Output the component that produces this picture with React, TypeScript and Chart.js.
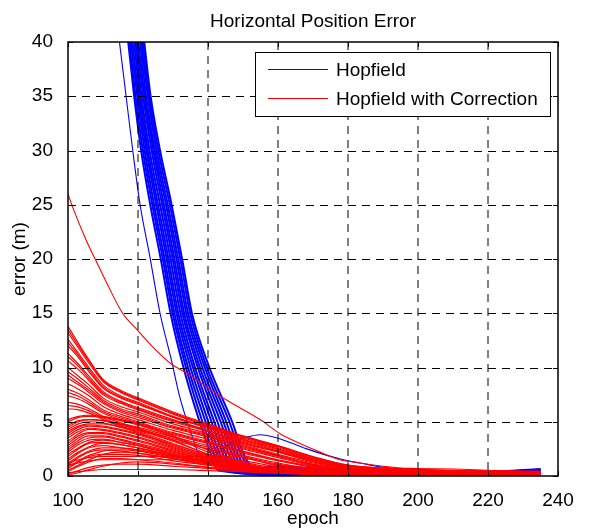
import React, { useEffect, useRef } from 'react';
import { Chart, registerables } from 'chart.js';

Chart.register(...registerables);

const FONT = "'Liberation Sans', Arial, Helvetica, sans-serif";

const X_TICKS = [100, 120, 140, 160, 180, 200, 220, 240];
const Y_TICKS = [0, 5, 10, 15, 20, 25, 30, 35, 40];

const TITLE = 'Horizontal Position Error';
const X_LABEL = 'epoch';
const Y_LABEL = 'error (m)';
const LEGEND_LABELS = ['Hopfield', 'Hopfield with Correction'];

// ---- Hopfield (blue): main bundle, epochs at which each run crosses these error levels
const BLUE_LEVELS = [45, 40, 35, 30, 25, 20, 15, 10, 5, 2, 0.5];
const BLUE_BUNDLE_EPOCHS = [
  [115.7, 117.2, 118.9, 120.9, 123.5, 126.5, 129.3, 133.0, 137.6, 140.9, 143.0],
  [116.1, 117.6, 119.3, 121.4, 124.1, 127.1, 129.9, 133.7, 138.4, 141.7, 144.0],
  [116.5, 118.0, 119.8, 121.9, 124.6, 127.6, 130.4, 134.3, 139.3, 142.6, 144.9],
  [116.9, 118.4, 120.2, 122.4, 125.2, 128.2, 131.0, 135.0, 140.1, 143.4, 145.9],
  [117.4, 118.9, 120.6, 122.8, 125.7, 128.7, 131.5, 135.7, 141.0, 144.3, 146.9],
  [117.8, 119.3, 121.0, 123.3, 126.3, 129.3, 132.1, 136.3, 141.8, 145.1, 147.9],
  [118.2, 119.7, 121.5, 123.9, 126.9, 129.9, 132.7, 137.1, 142.7, 146.0, 148.9],
  [118.6, 120.1, 121.9, 124.4, 127.4, 130.4, 133.2, 137.7, 143.6, 146.9, 149.9],
  [119.1, 120.6, 122.3, 124.8, 128.0, 131.0, 133.8, 138.4, 144.4, 147.7, 150.9],
  [119.5, 121.0, 122.8, 125.3, 128.5, 131.5, 134.3, 139.1, 145.2, 148.5, 151.9],
  [119.9, 121.4, 123.2, 125.8, 129.1, 132.1, 134.9, 139.7, 146.1, 149.4, 152.8],
  [120.3, 121.8, 123.6, 126.3, 129.6, 132.6, 135.4, 140.4, 146.9, 150.2, 153.8],
];
const BLUE_TAIL_EPOCHS = [160, 180, 200, 220, 235];
const BLUE_TAIL_VALUES = [
  [0.15, 0.1, 0.1, 0.2, 0.35],
  [0.4, 0.2, 0.15, 0.25, 0.45],
  [0.1, 0.1, 0.1, 0.15, 0.3],
  [0.8, 0.35, 0.2, 0.3, 0.55],
  [0.2, 0.1, 0.1, 0.25, 0.45],
  [0.5, 0.25, 0.2, 0.35, 0.65],
  [0.1, 0.1, 0.1, 0.15, 0.3],
  [0.9, 0.45, 0.3, 0.35, 0.6],
  [0.3, 0.15, 0.1, 0.25, 0.4],
  [0.6, 0.3, 0.2, 0.3, 0.5],
  [0.15, 0.1, 0.1, 0.2, 0.35],
  [0.4, 0.2, 0.15, 0.25, 0.45],
];

// ---- Hopfield (blue): single outlying run
const BLUE_THIN_EPOCHS = [112.8, 114.7, 116.6, 118.5, 120.6, 123.4, 126.3, 129.6, 132.0, 134.9, 137.7, 139.5, 141.5, 145.0, 147.2, 150.1, 154.9, 158.7, 162.5, 168.2, 174.0, 178.7, 183.4, 190, 200, 215, 225, 235];
const BLUE_THIN_VALUES = [45, 40, 35, 30, 25, 20.2, 15.0, 10.6, 7.2, 4.2, 1.8, 1.3, 1.8, 2.7, 3.2, 3.5, 3.8, 3.6, 3.2, 2.5, 1.9, 1.5, 1.2, 0.8, 0.6, 0.5, 0.45, 0.5];

// ---- Hopfield with Correction (red)
const RED_EPOCHS = [100, 103, 106, 110, 115, 120, 130, 140, 150, 160, 170, 180, 200, 220, 235];
const RED_UPPER = [
  [13.8, 12.2, 10.7, 8.9, 7.9, 7.2, 5.9, 4.8, 3.7, 2.8, 1.8, 1.0, 0.6, 0.45, 0.4],
  [13.5, 12.0, 10.6, 8.8, 7.8, 7.1, 5.8, 4.7, 3.65, 2.75, 1.75, 1.0, 0.6, 0.45, 0.4],
  [13.2, 11.8, 10.4, 8.7, 7.7, 7.0, 5.7, 4.6, 3.6, 2.7, 1.7, 0.95, 0.55, 0.45, 0.4],
  [12.6, 11.3, 10.0, 8.4, 7.4, 6.8, 5.5, 4.5, 3.5, 2.6, 1.6, 0.9, 0.55, 0.4, 0.35],
  [12.3, 11.1, 9.8, 8.2, 7.3, 6.7, 5.45, 4.45, 3.4, 2.5, 1.55, 0.9, 0.5, 0.4, 0.35],
  [12.0, 10.9, 9.6, 8.1, 7.2, 6.6, 5.4, 4.4, 3.3, 2.4, 1.5, 0.85, 0.5, 0.4, 0.35],
  [11.3, 10.3, 9.2, 7.8, 6.9, 6.3, 5.2, 4.2, 3.2, 2.3, 1.4, 0.8, 0.5, 0.4, 0.35],
  [11.0, 10.1, 9.0, 7.65, 6.8, 6.2, 5.1, 4.15, 3.1, 2.25, 1.35, 0.8, 0.5, 0.35, 0.3],
  [10.6, 9.8, 8.8, 7.5, 6.7, 6.1, 5.0, 4.1, 3.0, 2.2, 1.3, 0.75, 0.5, 0.35, 0.3],
  [10.0, 9.2, 8.4, 7.2, 6.4, 5.9, 4.8, 3.9, 2.9, 2.0, 1.2, 0.7, 0.45, 0.35, 0.3],
  [9.6, 8.9, 8.1, 7.0, 6.2, 5.7, 4.6, 3.8, 2.8, 1.9, 1.1, 0.65, 0.45, 0.35, 0.3],
  [9.3, 8.6, 7.9, 6.85, 6.05, 5.55, 4.5, 3.7, 2.7, 1.85, 1.05, 0.6, 0.4, 0.3, 0.3],
  [9.0, 8.4, 7.7, 6.7, 5.9, 5.4, 4.4, 3.6, 2.6, 1.8, 1.0, 0.6, 0.4, 0.3, 0.3],
  [8.5, 8.0, 7.4, 6.4, 5.7, 5.2, 4.2, 3.4, 2.5, 1.7, 0.95, 0.55, 0.4, 0.3, 0.25],
  [8.0, 7.6, 7.0, 6.1, 5.5, 5.0, 4.0, 3.2, 2.3, 1.5, 0.9, 0.5, 0.35, 0.3, 0.25],
  [7.7, 7.35, 6.8, 5.95, 5.35, 4.9, 3.9, 3.1, 2.2, 1.45, 0.85, 0.5, 0.35, 0.25, 0.25],
  [7.4, 7.1, 6.6, 5.8, 5.2, 4.8, 3.8, 3.0, 2.1, 1.4, 0.8, 0.5, 0.35, 0.25, 0.25],
  [6.8, 6.6, 6.2, 5.5, 4.9, 4.5, 3.6, 2.8, 1.9, 1.2, 0.7, 0.45, 0.3, 0.25, 0.2],
  [6.5, 6.35, 6.0, 5.35, 4.75, 4.35, 3.45, 2.65, 1.8, 1.1, 0.65, 0.4, 0.3, 0.25, 0.2],
  [6.2, 6.1, 5.8, 5.2, 4.6, 4.2, 3.3, 2.5, 1.7, 1.0, 0.6, 0.4, 0.3, 0.25, 0.2],
];
const RED_LOWER = [
  [5.2, 5.5, 5.6, 5.5, 5.2, 4.8, 3.7, 2.4, 1.3, 0.7, 0.45, 0.3, 0.25, 0.2, 0.2],
  [5.0, 5.4, 5.5, 5.4, 5.1, 4.7, 3.6, 2.2, 1.2, 0.6, 0.4, 0.3, 0.25, 0.2, 0.2],
  [4.7, 5.1, 5.2, 5.1, 4.8, 4.4, 3.3, 2.0, 1.1, 0.6, 0.4, 0.3, 0.25, 0.2, 0.2],
  [4.5, 5.0, 5.2, 5.1, 4.7, 4.3, 3.2, 2.0, 1.1, 0.6, 0.4, 0.3, 0.2, 0.2, 0.2],
  [4.3, 4.8, 5.0, 4.9, 4.5, 4.1, 3.0, 1.9, 1.0, 0.5, 0.35, 0.3, 0.2, 0.2, 0.2],
  [4.1, 4.6, 4.8, 4.8, 4.5, 4.0, 2.9, 1.9, 1.0, 0.55, 0.35, 0.3, 0.2, 0.2, 0.15],
  [3.9, 4.5, 4.7, 4.6, 4.3, 3.9, 2.8, 1.8, 1.0, 0.5, 0.35, 0.3, 0.2, 0.2, 0.2],
  [3.7, 4.3, 4.6, 4.5, 4.2, 3.8, 2.7, 1.7, 0.95, 0.5, 0.3, 0.25, 0.2, 0.15, 0.15],
  [3.5, 4.1, 4.4, 4.3, 4.0, 3.6, 2.6, 1.7, 0.9, 0.5, 0.3, 0.25, 0.2, 0.15, 0.15],
  [3.2, 3.9, 4.3, 4.2, 3.9, 3.5, 2.5, 1.6, 0.9, 0.5, 0.3, 0.25, 0.2, 0.15, 0.15],
  [3.0, 3.7, 4.0, 4.0, 3.7, 3.3, 2.4, 1.6, 0.9, 0.5, 0.3, 0.25, 0.2, 0.15, 0.15],
  [2.8, 3.5, 3.9, 3.9, 3.6, 3.2, 2.3, 1.5, 0.85, 0.45, 0.3, 0.2, 0.15, 0.15, 0.15],
  [2.6, 3.3, 3.7, 3.7, 3.4, 3.0, 2.2, 1.5, 0.8, 0.45, 0.3, 0.25, 0.2, 0.15, 0.15],
  [2.4, 3.1, 3.5, 3.6, 3.3, 2.9, 2.1, 1.4, 0.8, 0.45, 0.3, 0.2, 0.15, 0.1, 0.1],
  [2.2, 2.9, 3.3, 3.4, 3.1, 2.8, 2.0, 1.4, 0.8, 0.4, 0.3, 0.2, 0.15, 0.15, 0.15],
  [2.0, 2.6, 3.1, 3.3, 3.1, 2.8, 2.0, 1.3, 0.75, 0.4, 0.25, 0.2, 0.15, 0.1, 0.1],
  [1.8, 2.5, 3.0, 3.1, 2.9, 2.6, 1.9, 1.3, 0.7, 0.4, 0.25, 0.2, 0.15, 0.1, 0.1],
  [1.6, 2.2, 2.7, 3.0, 2.9, 2.6, 1.9, 1.2, 0.7, 0.4, 0.25, 0.2, 0.15, 0.1, 0.1],
  [1.4, 2.1, 2.6, 2.8, 2.6, 2.4, 1.8, 1.2, 0.7, 0.4, 0.25, 0.2, 0.15, 0.1, 0.1],
  [1.2, 1.8, 2.3, 2.6, 2.6, 2.4, 1.8, 1.2, 0.7, 0.35, 0.2, 0.15, 0.1, 0.1, 0.1],
  [1.0, 1.7, 2.2, 2.4, 2.3, 2.1, 1.6, 1.1, 0.6, 0.35, 0.2, 0.15, 0.1, 0.1, 0.1],
  [0.85, 1.4, 1.9, 2.3, 2.4, 2.3, 1.7, 1.1, 0.6, 0.35, 0.2, 0.15, 0.1, 0.1, 0.1],
  [0.7, 1.3, 1.8, 2.0, 2.0, 1.9, 1.4, 1.0, 0.6, 0.3, 0.2, 0.15, 0.1, 0.1, 0.1],
  [0.55, 1.0, 1.5, 2.0, 2.2, 2.1, 1.6, 1.0, 0.6, 0.3, 0.2, 0.15, 0.1, 0.1, 0.1],
  [0.4, 0.9, 1.3, 1.6, 1.6, 1.5, 1.2, 0.8, 0.5, 0.3, 0.2, 0.1, 0.1, 0.1, 0.1],
  [0.2, 0.5, 0.8, 1.0, 1.1, 1.1, 0.9, 0.7, 0.4, 0.25, 0.15, 0.1, 0.1, 0.1, 0.1],
  [0.1, 0.3, 0.6, 0.9, 1.2, 1.3, 1.1, 0.8, 0.5, 0.3, 0.15, 0.1, 0.1, 0.1, 0.1],
  [1.2, 1.5, 1.7, 1.8, 1.8, 1.8, 1.8, 1.8, 1.7, 0.9, 0.5, 0.3, 0.2, 0.15, 0.1],
  [1.0, 1.2, 1.4, 1.5, 1.5, 1.5, 1.5, 1.5, 1.4, 0.8, 0.4, 0.25, 0.15, 0.1, 0.1],
  [0.3, 0.4, 0.5, 0.6, 0.6, 0.6, 0.6, 0.5, 0.4, 0.3, 0.2, 0.15, 0.1, 0.1, 0.1],
];
const RED_OUT_EPOCHS = [100, 101.3, 105.1, 107.9, 110.9, 115.6, 119.4, 124.2, 129.6, 133.9, 140.1, 145.3, 154.9, 160.6, 166.3, 172, 177.7, 183.4, 190, 198, 210, 222, 235];
const RED_OUT_VALUES = [26.0, 24.8, 21.8, 19.9, 17.9, 15.0, 13.6, 11.9, 10.3, 9.5, 8.1, 7.0, 5.2, 3.9, 3.0, 2.2, 1.5, 1.2, 0.9, 0.7, 0.65, 0.5, 0.45];

const BLUE = '#0000ff';
const RED = '#ff0000';

const toPoints = (xs: number[], ys: number[]) => xs.map((x, i) => ({ x, y: ys[i] }));

const matlabPlugin = {
  id: 'matlabDecor',
  afterDatasetsDraw(chart: any) {
    const { ctx, chartArea: a, scales } = chart;
    const xs = scales.x;
    const ys = scales.y;
    ctx.save();
    // dashed grid on top of data
    ctx.lineWidth = 1;
    ctx.strokeStyle = '#000';
    ctx.setLineDash([8, 6]);
    X_TICKS.slice(1, -1).forEach((v) => {
      const px = Math.round(xs.getPixelForValue(v));
      ctx.beginPath();
      ctx.moveTo(px, a.top);
      ctx.lineTo(px, a.bottom);
      ctx.stroke();
    });
    Y_TICKS.slice(1, -1).forEach((v) => {
      const py = Math.round(ys.getPixelForValue(v)) + 0.5;
      ctx.beginPath();
      ctx.moveTo(a.left, py);
      ctx.lineTo(a.right, py);
      ctx.stroke();
    });
    ctx.setLineDash([]);
    // inward tick marks on all sides
    const tl = 5;
    X_TICKS.forEach((v) => {
      const px = Math.round(xs.getPixelForValue(v)) + 0.5;
      ctx.beginPath();
      ctx.moveTo(px, a.bottom);
      ctx.lineTo(px, a.bottom - tl);
      ctx.moveTo(px, a.top);
      ctx.lineTo(px, a.top + tl);
      ctx.stroke();
    });
    Y_TICKS.forEach((v) => {
      const py = Math.round(ys.getPixelForValue(v)) + 0.5;
      ctx.beginPath();
      ctx.moveTo(a.left, py);
      ctx.lineTo(a.left + tl, py);
      ctx.moveTo(a.right, py);
      ctx.lineTo(a.right - tl, py);
      ctx.stroke();
    });
    // frame
    ctx.lineWidth = 1.5;
    ctx.strokeRect(a.left, a.top, a.right - a.left, a.bottom - a.top);

    // legend
    const lx = 255.5, ly = 52.5, lw = 295, lh = 64;
    ctx.fillStyle = '#fff';
    ctx.fillRect(lx, ly, lw, lh);
    ctx.lineWidth = 1;
    ctx.strokeStyle = '#000';
    ctx.strokeRect(lx, ly, lw, lh);
    const entries = [
      { label: LEGEND_LABELS[0], color: BLUE, y: 69.5, base: 76 },
      { label: LEGEND_LABELS[1], color: RED, y: 98.5, base: 105 },
    ];
    ctx.font = `19px ${FONT}`;
    ctx.textAlign = 'left';
    ctx.textBaseline = 'alphabetic';
    entries.forEach((e) => {
      ctx.strokeStyle = e.color;
      ctx.beginPath();
      ctx.moveTo(268, e.y);
      ctx.lineTo(328, e.y);
      ctx.stroke();
      ctx.fillStyle = '#000';
      ctx.fillText(e.label, 336, e.base);
    });

    // titles
    ctx.fillStyle = '#000';
    ctx.textAlign = 'center';
    ctx.fillText(TITLE, (a.left + a.right) / 2, 27);
    ctx.fillText(X_LABEL, (a.left + a.right) / 2, 524);
    ctx.translate(25, (a.top + a.bottom) / 2);
    ctx.rotate(-Math.PI / 2);
    ctx.fillText(Y_LABEL, 0, 0);
    ctx.restore();
  },
};

export default function App() {
  const ref = useRef<HTMLCanvasElement>(null);

  useEffect(() => {
    document.body.style.margin = '0';
    const canvas = ref.current;
    if (!canvas) return;

    // index 0 is drawn on top: red runs first so they overlay the blue ones
    const datasets: any[] = [];
    datasets.push({ label: LEGEND_LABELS[1], data: toPoints(RED_OUT_EPOCHS, RED_OUT_VALUES), borderColor: RED, borderWidth: 1.1 });
    RED_UPPER.concat(RED_LOWER).forEach((vals) => {
      datasets.push({ label: '', data: toPoints(RED_EPOCHS, vals), borderColor: RED, borderWidth: 1.2 });
    });
    datasets.push({ label: '', data: toPoints(BLUE_THIN_EPOCHS, BLUE_THIN_VALUES), borderColor: BLUE, borderWidth: 1.1 });
    BLUE_BUNDLE_EPOCHS.forEach((eps, i) => {
      const pts = toPoints(eps, BLUE_LEVELS).concat(toPoints(BLUE_TAIL_EPOCHS, BLUE_TAIL_VALUES[i]));
      datasets.push({ label: i === 0 ? LEGEND_LABELS[0] : '', data: pts, borderColor: BLUE, borderWidth: 2 });
    });

    const tickFont = { family: FONT, size: 19 };
    const chart = new Chart(canvas, {
      type: 'line',
      data: { datasets },
      options: {
        responsive: false,
        animation: false,
        devicePixelRatio: 1,
        events: [],
        layout: { padding: { top: 42, right: 33, left: 0, bottom: 0 } },
        plugins: {
          legend: { display: false },
          title: { display: false },
          tooltip: { enabled: false },
        },
        elements: {
          point: { radius: 0 },
          line: { cubicInterpolationMode: 'monotone', fill: false },
        },
        scales: {
          x: {
            type: 'linear',
            min: X_TICKS[0],
            max: X_TICKS[X_TICKS.length - 1],
            ticks: { stepSize: 20, padding: 5, color: '#000', font: tickFont, maxRotation: 0 },
            grid: { display: false },
            border: { display: false },
            afterFit: (s: any) => { s.height = 53; },
          },
          y: {
            type: 'linear',
            min: Y_TICKS[0],
            max: Y_TICKS[Y_TICKS.length - 1],
            ticks: { stepSize: 5, padding: 7, color: '#000', font: tickFont },
            grid: { display: false },
            border: { display: false },
            afterFit: (s: any) => { s.width = 68; },
          },
        },
      } as any,
      plugins: [matlabPlugin],
    });
    return () => chart.destroy();
  }, []);

  return (
    <div style={{ position: 'absolute', left: 0, top: 0, width: 591, height: 529, background: '#fff' }}>
      <canvas ref={ref} width={591} height={529} />
    </div>
  );
}
